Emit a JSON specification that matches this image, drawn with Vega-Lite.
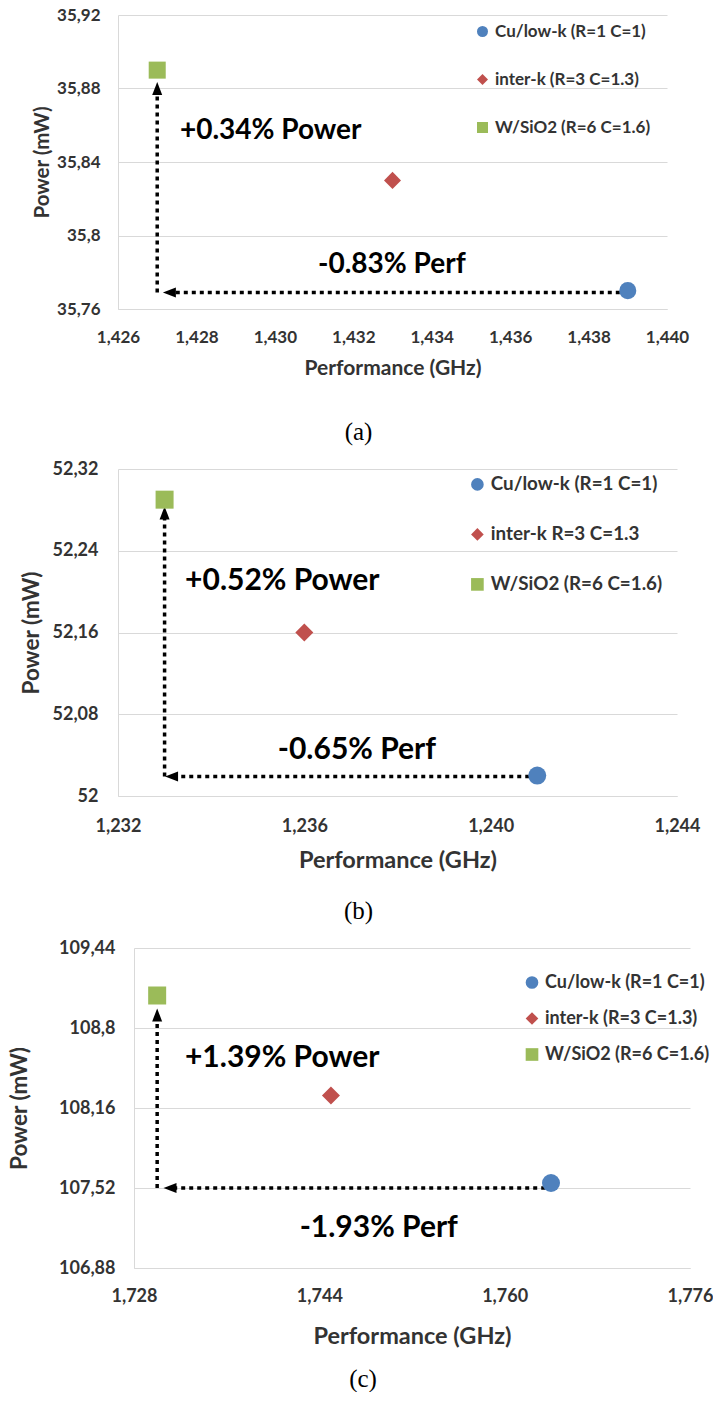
{
  "$schema": "https://vega.github.io/schema/vega-lite/v6.json",
  "padding": {"left": 8, "top": 6, "right": 0, "bottom": 0},
  "background": "white",
  "spacing": 15,
  "align": "none",
  "config": {
    "locale": {"number": {"decimal": ",", "thousands": ".", "grouping": [3], "currency": ["", " €"]}},
    "font": "Lato",
    "view": {"stroke": null},
    "axis": {
      "labelFont": "Lato", "labelFontWeight": "bold", "labelColor": "#333333",
      "titleFont": "Lato", "titleFontWeight": "bold", "titleColor": "#333333",
      "domainColor": "#d9d9d9", "gridColor": "#d9d9d9", "gridWidth": 1,
      "ticks": false, "tickSize": 0, "labelFlush": false
    },
    "legend": {
      "orient": "none", "title": null, "padding": 0,
      "labelFont": "Lato", "labelFontWeight": "bold", "labelColor": "#333333",
      "labelOffset": 4, "symbolStrokeWidth": 0, "labelLimit": 400
    }
  },
  "vconcat": [
    {
      "width": 549, "height": 294,
      "title": {"text": "(a)", "orient": "bottom", "font": "Liberation Serif", "fontSize": 25, "fontWeight": "normal", "color": "#000000", "offset": 42, "dx": -34},
      "encoding": {
        "x": {"field": "perf", "type": "quantitative",
              "scale": {"domain": [1.426, 1.44], "nice": false, "zero": false},
              "axis": {"title": "Performance (GHz)", "grid": false, "values": [1.426, 1.428, 1.43, 1.432, 1.434, 1.436, 1.438, 1.44], "format": ".3f", "labelFontSize": 17, "titleFontSize": 21, "labelPadding": 20, "titlePadding": 12}},
        "y": {"field": "power", "type": "quantitative",
              "scale": {"domain": [35.76, 35.92], "nice": false, "zero": false},
              "axis": {"title": "Power (mW)", "grid": true, "values": [35.76, 35.8, 35.84, 35.88, 35.92], "format": ".6~r", "labelFontSize": 17, "titleFontSize": 20.5, "labelPadding": 18, "titlePadding": 4}}
      },
      "layer": [
        {
          "data": {"values": [
            {"perf": 1.427, "power": 35.769, "perf2": 1.427, "power2": 35.881},
            {"perf": 1.439, "power": 35.769, "perf2": 1.4273, "power2": 35.769}
          ]},
          "mark": {"type": "rule", "color": "#000000", "strokeWidth": 3.5, "strokeDash": [4, 4]},
          "encoding": {"x2": {"field": "perf2"}, "y2": {"field": "power2"}}
        },
        {
          "data": {"values": [{"perf": 1.427, "power": 35.88}]},
          "mark": {"type": "point", "filled": true, "color": "#000000", "opacity": 1, "size": 169, "shape": "M0,-1L0.77,1L-0.77,1Z"}
        },
        {
          "data": {"values": [{"perf": 1.42731, "power": 35.769}]},
          "mark": {"type": "point", "filled": true, "color": "#000000", "opacity": 1, "size": 169, "shape": "M-1,0L1,-0.77L1,0.77Z"}
        },
        {
          "data": {"values": [
            {"perf": 1.42758, "power": 35.857, "label": "+0.34% Power"},
            {"perf": 1.4311, "power": 35.784, "label": "-0.83% Perf"}
          ]},
          "mark": {"type": "text", "align": "left", "baseline": "middle", "font": "Lato", "fontWeight": "bold", "fontSize": 28, "color": "#000000"},
          "encoding": {"text": {"field": "label"}}
        },
        {
          "data": {"values": [
            {"series": "Cu/low-k (R=1 C=1)", "perf": 1.439, "power": 35.77},
            {"series": "inter-k (R=3 C=1.3)", "perf": 1.433, "power": 35.83},
            {"series": "W/SiO2 (R=6 C=1.6)", "perf": 1.427, "power": 35.89}
          ]},
          "mark": {"type": "point", "filled": true, "opacity": 1, "size": 290},
          "encoding": {
            "color": {"field": "series", "type": "nominal",
                      "scale": {"domain": ["Cu/low-k (R=1 C=1)", "inter-k (R=3 C=1.3)", "W/SiO2 (R=6 C=1.6)"], "range": ["#4F81BD", "#C0504D", "#9BBB59"]},
                      "legend": {"legendX": 356, "legendY": 8, "labelFontSize": 17, "symbolSize": 121, "rowPadding": 30}},
            "shape": {"field": "series", "type": "nominal",
                      "scale": {"domain": ["Cu/low-k (R=1 C=1)", "inter-k (R=3 C=1.3)", "W/SiO2 (R=6 C=1.6)"], "range": ["circle", "diamond", "square"]},
                      "legend": {"legendX": 356, "legendY": 8, "labelFontSize": 17, "symbolSize": 121, "rowPadding": 30}}
          }
        }
      ]
    },
    {
      "width": 559, "height": 327,
      "title": {"text": "(b)", "orient": "bottom", "font": "Liberation Serif", "fontSize": 25, "fontWeight": "normal", "color": "#000000", "offset": 27, "dx": -39},
      "encoding": {
        "x": {"field": "perf", "type": "quantitative",
              "scale": {"domain": [1.232, 1.244], "nice": false, "zero": false},
              "axis": {"title": "Performance (GHz)", "grid": false, "values": [1.232, 1.236, 1.24, 1.244], "format": ".3f", "labelFontSize": 18, "titleFontSize": 23.5, "labelPadding": 21, "titlePadding": 13}},
        "y": {"field": "power", "type": "quantitative",
              "scale": {"domain": [52, 52.32], "nice": false, "zero": false},
              "axis": {"title": "Power (mW)", "grid": true, "values": [52, 52.08, 52.16, 52.24, 52.32], "format": ".6~r", "labelFontSize": 18, "titleFontSize": 22.5, "labelPadding": 20, "titlePadding": 9}}
      },
      "layer": [
        {
          "data": {"values": [
            {"perf": 1.233, "power": 52.019, "perf2": 1.233, "power2": 52.278},
            {"perf": 1.241, "power": 52.019, "perf2": 1.2332, "power2": 52.019}
          ]},
          "mark": {"type": "rule", "color": "#000000", "strokeWidth": 3.5, "strokeDash": [4, 4]},
          "encoding": {"x2": {"field": "perf2"}, "y2": {"field": "power2"}}
        },
        {
          "data": {"values": [{"perf": 1.233, "power": 52.277}]},
          "mark": {"type": "point", "filled": true, "color": "#000000", "opacity": 1, "size": 169, "shape": "M0,-1L0.77,1L-0.77,1Z"}
        },
        {
          "data": {"values": [{"perf": 1.23315, "power": 52.019}]},
          "mark": {"type": "point", "filled": true, "color": "#000000", "opacity": 1, "size": 169, "shape": "M-1,0L1,-0.77L1,0.77Z"}
        },
        {
          "data": {"values": [
            {"perf": 1.23344, "power": 52.21, "label": "+0.52% Power"},
            {"perf": 1.23543, "power": 52.045, "label": "-0.65% Perf"}
          ]},
          "mark": {"type": "text", "align": "left", "baseline": "middle", "font": "Lato", "fontWeight": "bold", "fontSize": 30, "color": "#000000"},
          "encoding": {"text": {"field": "label"}}
        },
        {
          "data": {"values": [
            {"series": "Cu/low-k (R=1 C=1)", "perf": 1.241, "power": 52.02},
            {"series": "inter-k R=3 C=1.3", "perf": 1.236, "power": 52.16},
            {"series": "W/SiO2 (R=6 C=1.6)", "perf": 1.233, "power": 52.29}
          ]},
          "mark": {"type": "point", "filled": true, "opacity": 1, "size": 324},
          "encoding": {
            "color": {"field": "series", "type": "nominal",
                      "scale": {"domain": ["Cu/low-k (R=1 C=1)", "inter-k R=3 C=1.3", "W/SiO2 (R=6 C=1.6)"], "range": ["#4F81BD", "#C0504D", "#9BBB59"]},
                      "legend": {"legendX": 350, "legendY": 6, "labelFontSize": 18.8, "symbolSize": 160, "rowPadding": 30}},
            "shape": {"field": "series", "type": "nominal",
                      "scale": {"domain": ["Cu/low-k (R=1 C=1)", "inter-k R=3 C=1.3", "W/SiO2 (R=6 C=1.6)"], "range": ["circle", "diamond", "square"]},
                      "legend": {"legendX": 350, "legendY": 6, "labelFontSize": 18.8, "symbolSize": 160, "rowPadding": 30}}
          }
        }
      ]
    },
    {
      "width": 572, "height": 320,
      "title": {"text": "(c)", "orient": "bottom", "font": "Liberation Serif", "fontSize": 25, "fontWeight": "normal", "color": "#000000", "offset": 19, "dx": -41},
      "encoding": {
        "x": {"field": "perf", "type": "quantitative",
              "scale": {"domain": [1.728, 1.776], "range": [16, 572], "nice": false, "zero": false},
              "axis": {"title": "Performance (GHz)", "grid": false, "values": [1.728, 1.744, 1.76, 1.776], "format": ".3f", "labelFontSize": 18, "titleFontSize": 23.5, "labelPadding": 19, "titlePadding": 19}},
        "y": {"field": "power", "type": "quantitative",
              "scale": {"domain": [106.88, 109.44], "nice": false, "zero": false},
              "axis": {"title": "Power (mW)", "grid": true, "offset": -16, "values": [106.88, 107.52, 108.16, 108.8, 109.44], "format": ".6~r", "labelFontSize": 18, "titleFontSize": 22.5, "labelPadding": 19, "titlePadding": 27}}
      },
      "layer": [
        {
          "data": {"values": [
            {"perf": 1.730, "power": 107.52, "perf2": 1.730, "power2": 108.9},
            {"perf": 1.7635, "power": 107.52, "perf2": 1.7311, "power2": 107.52}
          ]},
          "mark": {"type": "rule", "color": "#000000", "strokeWidth": 3.5, "strokeDash": [4, 4]},
          "encoding": {"x2": {"field": "perf2"}, "y2": {"field": "power2"}}
        },
        {
          "data": {"values": [{"perf": 1.730, "power": 108.904}]},
          "mark": {"type": "point", "filled": true, "color": "#000000", "opacity": 1, "size": 169, "shape": "M0,-1L0.77,1L-0.77,1Z"}
        },
        {
          "data": {"values": [{"perf": 1.73111, "power": 107.52}]},
          "mark": {"type": "point", "filled": true, "color": "#000000", "opacity": 1, "size": 169, "shape": "M-1,0L1,-0.77L1,0.77Z"}
        },
        {
          "data": {"values": [
            {"perf": 1.7324, "power": 108.56, "label": "+1.39% Power"},
            {"perf": 1.7423, "power": 107.2, "label": "-1.93% Perf"}
          ]},
          "mark": {"type": "text", "align": "left", "baseline": "middle", "font": "Lato", "fontWeight": "bold", "fontSize": 30, "color": "#000000"},
          "encoding": {"text": {"field": "label"}}
        },
        {
          "data": {"values": [
            {"series": "Cu/low-k (R=1 C=1)", "perf": 1.764, "power": 107.56},
            {"series": "inter-k (R=3 C=1.3)", "perf": 1.745, "power": 108.26},
            {"series": "W/SiO2 (R=6 C=1.6)", "perf": 1.730, "power": 109.06}
          ]},
          "mark": {"type": "point", "filled": true, "opacity": 1, "size": 324},
          "encoding": {
            "color": {"field": "series", "type": "nominal",
                      "scale": {"domain": ["Cu/low-k (R=1 C=1)", "inter-k (R=3 C=1.3)", "W/SiO2 (R=6 C=1.6)"], "range": ["#4F81BD", "#C0504D", "#9BBB59"]},
                      "legend": {"legendX": 405, "legendY": 25.5, "labelFontSize": 18, "symbolSize": 160, "rowPadding": 18}},
            "shape": {"field": "series", "type": "nominal",
                      "scale": {"domain": ["Cu/low-k (R=1 C=1)", "inter-k (R=3 C=1.3)", "W/SiO2 (R=6 C=1.6)"], "range": ["circle", "diamond", "square"]},
                      "legend": {"legendX": 405, "legendY": 25.5, "labelFontSize": 18, "symbolSize": 160, "rowPadding": 18}}
          }
        }
      ]
    }
  ],
  "resolve": {"scale": {"color": "independent", "shape": "independent"}}
}
